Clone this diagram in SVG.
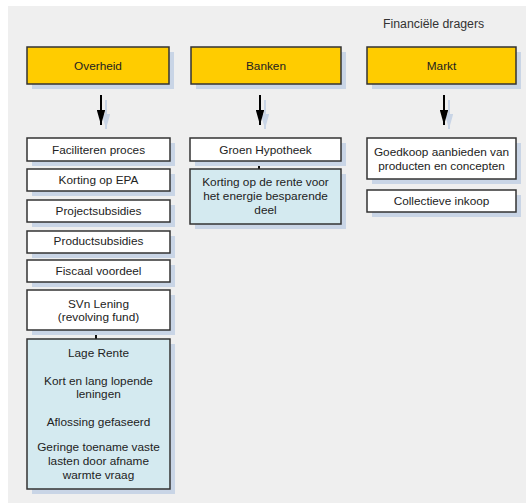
<svg xmlns="http://www.w3.org/2000/svg" width="526" height="503" viewBox="0 0 526 503">
  <style>
    .bg { fill: #efefef; }
    .shadow { fill: #c9d5e6; }
    .head { fill: #ffcc00; stroke: #333333; stroke-width: 1.5; }
    .item { fill: #ffffff; stroke: #333333; stroke-width: 1.5; }
    .note { fill: #d4eaf0; stroke: #333333; stroke-width: 1.5; }
    text { font-family: "Liberation Sans", Arial, sans-serif; font-size: 11.8px; fill: #222222; text-anchor: middle; }
    .title { text-anchor: start; fill: #333333; font-size: 12.3px; }
    .link { stroke: #111111; stroke-width: 2; fill: none; }
    .arrow { stroke: #000000; stroke-width: 2; fill: none; }
    .arrow-shadow { stroke: #c9d5e6; stroke-width: 2; fill: none; }
  </style>
  <defs>
    <marker id="head" viewBox="0 0 10 10" refX="10" refY="5" markerWidth="7.5" markerHeight="4.2" markerUnits="strokeWidth" orient="auto" preserveAspectRatio="none">
      <path d="M0,0 L10,5 L0,10 z" fill="#000000"/>
    </marker>
    <marker id="head-shadow" viewBox="0 0 10 10" refX="10" refY="5" markerWidth="7.5" markerHeight="4.2" markerUnits="strokeWidth" orient="auto" preserveAspectRatio="none">
      <path d="M0,0 L10,5 L0,10 z" fill="#c9d5e6"/>
    </marker>
  </defs>

  <rect class="bg" x="8" y="6" width="518" height="497"/>
  <text class="title" x="383" y="28">Financiële dragers</text>

  <!-- connectors -->
  <g id="connectors">
    <line class="arrow-shadow" x1="106" y1="100" x2="106" y2="129" marker-end="url(#head-shadow)"/>
    <line class="arrow-shadow" x1="265" y1="100" x2="265" y2="129" marker-end="url(#head-shadow)"/>
    <line class="arrow-shadow" x1="449" y1="100" x2="449" y2="129" marker-end="url(#head-shadow)"/>
    <line class="arrow" x1="101" y1="95" x2="101" y2="125" marker-end="url(#head)"/>
    <line class="arrow" x1="260" y1="95" x2="260" y2="125" marker-end="url(#head)"/>
    <line class="arrow" x1="444" y1="95" x2="444" y2="125" marker-end="url(#head)"/>
    <line class="link" x1="96" y1="330" x2="96" y2="339"/>
    <line class="link" x1="259" y1="161" x2="259" y2="169"/>
  </g>

  <!-- column headers -->
  <g id="overheid">
    <rect class="shadow" x="32" y="52" width="142" height="37"/>
    <rect class="head" x="27" y="47" width="142" height="37"/>
    <text x="98" y="69.5">Overheid</text>
  </g>
  <g id="banken">
    <rect class="shadow" x="196" y="52" width="150" height="37"/>
    <rect class="head" x="191" y="47" width="150" height="37"/>
    <text x="266" y="69.5">Banken</text>
  </g>
  <g id="markt">
    <rect class="shadow" x="372" y="52" width="149" height="37"/>
    <rect class="head" x="367" y="47" width="149" height="37"/>
    <text x="441.5" y="69.5">Markt</text>
  </g>

  <!-- Overheid column -->
  <g id="faciliteren">
    <rect class="shadow" x="32" y="143" width="143" height="23"/>
    <rect class="item" x="27" y="138" width="143" height="23"/>
    <text x="98.5" y="153.8">Faciliteren proces</text>
  </g>
  <g id="korting-epa">
    <rect class="shadow" x="32" y="174" width="143" height="22"/>
    <rect class="item" x="27" y="169" width="143" height="22"/>
    <text x="98.5" y="184.3">Korting op EPA</text>
  </g>
  <g id="projectsubsidies">
    <rect class="shadow" x="32" y="205" width="143" height="22"/>
    <rect class="item" x="27" y="200" width="143" height="22"/>
    <text x="98.5" y="215.3">Projectsubsidies</text>
  </g>
  <g id="productsubsidies">
    <rect class="shadow" x="32" y="236" width="143" height="22"/>
    <rect class="item" x="27" y="231" width="143" height="22"/>
    <text x="98.5" y="245.3">Productsubsidies</text>
  </g>
  <g id="fiscaal">
    <rect class="shadow" x="32" y="265" width="143" height="22"/>
    <rect class="item" x="27" y="260" width="143" height="22"/>
    <text x="98.5" y="274.8">Fiscaal voordeel</text>
  </g>
  <g id="svn-lening">
    <rect class="shadow" x="32" y="295" width="143" height="40"/>
    <rect class="item" x="27" y="290" width="143" height="40"/>
    <text x="98.5" y="307.5">SVn Lening</text>
    <text x="98.5" y="321">(revolving fund)</text>
  </g>
  <g id="lening-details">
    <rect class="shadow" x="32" y="344" width="143" height="150"/>
    <rect class="note" x="27" y="339" width="143" height="150"/>
    <text x="98.5" y="357">Lage Rente</text>
    <text x="98.5" y="385">Kort en lang lopende</text>
    <text x="98.5" y="397.5">leningen</text>
    <text x="98.5" y="426">Aflossing gefaseerd</text>
    <text x="98.5" y="451">Geringe toename vaste</text>
    <text x="98.5" y="464.5">lasten door afname</text>
    <text x="98.5" y="479">warmte vraag</text>
  </g>

  <!-- Banken column -->
  <g id="groen-hypotheek">
    <rect class="shadow" x="195" y="143" width="151" height="23"/>
    <rect class="item" x="190" y="138" width="151" height="23"/>
    <text x="265.5" y="153.8">Groen Hypotheek</text>
  </g>
  <g id="korting-rente">
    <rect class="shadow" x="195" y="174" width="151" height="55"/>
    <rect class="note" x="190" y="169" width="151" height="55"/>
    <text x="265.5" y="186">Korting op de rente voor</text>
    <text x="265.5" y="199.5">het energie besparende</text>
    <text x="265.5" y="214">deel</text>
  </g>

  <!-- Markt column -->
  <g id="goedkoop">
    <rect class="shadow" x="372" y="143" width="149" height="41"/>
    <rect class="item" x="367" y="138" width="149" height="41"/>
    <text x="441.5" y="155.5">Goedkoop aanbieden van</text>
    <text x="441.5" y="169.5">producten en concepten</text>
  </g>
  <g id="collectieve-inkoop">
    <rect class="shadow" x="372" y="195" width="149" height="22"/>
    <rect class="item" x="367" y="190" width="149" height="22"/>
    <text x="441.5" y="205">Collectieve inkoop</text>
  </g>
</svg>
